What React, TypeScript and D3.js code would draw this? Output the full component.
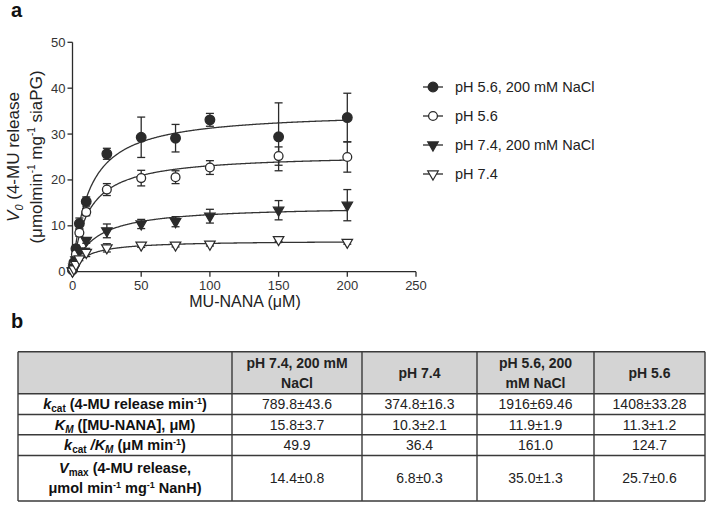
import React from "react";
import * as d3 from "d3";

const substrate = [0, 1, 2.5, 5, 10, 25, 50, 75, 100, 150, 200];
const seriesNames = ["pH 5.6, 200 mM NaCl", "pH 5.6", "pH 7.4, 200 mM NaCl", "pH 7.4"];
const seriesMarkers = ["circleFilled", "circleOpen", "triDownFilled", "triDownOpen"];
const vPh56Na = [0.5, 2.0, 5.0, 10.5, 15.3, 25.7, 29.3, 29.1, 33.1, 29.4, 33.6];
const ePh56Na = [0.3, 0.5, 0.8, 1.2, 1.0, 1.2, 4.4, 3.0, 1.4, 7.4, 5.3];
const vPh56 = [0.3, 1.5, 3.8, 8.5, 13.0, 17.9, 20.4, 20.6, 22.7, 25.2, 25.0];
const ePh56 = [0.2, 0.4, 0.6, 0.8, 0.8, 1.3, 1.7, 1.4, 1.5, 2.0, 3.3];
const vPh74Na = [0.2, 1.0, 2.6, 4.5, 6.8, 8.9, 10.4, 10.9, 12.1, 13.4, 14.5];
const ePh74Na = [0.1, 0.3, 0.4, 0.6, 0.6, 1.5, 1.0, 1.1, 1.5, 2.1, 3.4];
const vPh74 = [0.1, 0.6, 1.6, 2.8, 4.2, 5.2, 5.8, 5.8, 6.0, 7.0, 6.4];
const ePh74 = [0.1, 0.2, 0.3, 0.4, 0.9, 0.9, 0.5, 0.4, 0.4, 0.4, 0.4];
// fitted Michaelis-Menten parameters (from table)
const fitVmax = [35.0, 25.7, 14.4, 6.8];
const fitKm = [11.9, 11.3, 15.8, 10.3];

const xTicks = [0, 50, 100, 150, 200, 250];
const yTicks = [0, 10, 20, 30, 40, 50];

// table
const tableColumns = [["pH 7.4, 200 mM", "NaCl"], ["pH 7.4"], ["pH 5.6, 200", "mM NaCl"], ["pH 5.6"]];
const kcatRow = ["789.8±43.6", "374.8±16.3", "1916±69.46", "1408±33.28"];
const kmRow = ["15.8±3.7", "10.3±2.1", "11.9±1.9", "11.3±1.2"];
const ratioRow = ["49.9", "36.4", "161.0", "124.7"];
const vmaxRow = ["14.4±0.8", "6.8±0.3", "35.0±1.3", "25.7±0.6"];

const FONT = "'Liberation Sans', Arial, sans-serif";
const INK = "#2b2b2b";

function Marker({ kind, cx, cy }: { kind: string; cx: number; cy: number }) {
  if (kind.startsWith("circle")) {
    const filled = kind === "circleFilled";
    return <circle cx={cx} cy={cy} r={filled ? 4.8 : 4.4} fill={filled ? INK : "#fff"} stroke={INK} strokeWidth={1.3} />;
  }
  const filled = kind === "triDownFilled";
  const p = d3.symbol(d3.symbolTriangle, 48)() as string;
  return (
    <path d={p} transform={`translate(${cx},${cy}) rotate(180)`} fill={filled ? INK : "#fff"} stroke={INK} strokeWidth={1.2} />
  );
}

export default function App() {
  const x = d3.scaleLinear().domain([0, 250]).range([72.5, 416]);
  const y = d3.scaleLinear().domain([0, 50]).range([271.7, 42.3]);
  const values = [vPh56Na, vPh56, vPh74Na, vPh74];
  const errs = [ePh56Na, ePh56, ePh74Na, ePh74];
  const sGrid = d3.range(0, 200.01, 0.5);
  const line = d3
    .line<number[]>()
    .x((d) => x(d[0]))
    .y((d) => y(d[1]));

  // table geometry
  const colX = [18, 232, 362, 477, 594, 705];
  const rowY = [351.7, 393.8, 414.5, 434.8, 455.5, 501];
  const rows = [kcatRow, kmRow, ratioRow, vmaxRow];
  const colCenter = (i: number) => (colX[i] + colX[i + 1]) / 2;
  const rowCenter = (i: number) => (rowY[i] + rowY[i + 1]) / 2;

  return (
    <svg width={708} height={505} style={{ position: "absolute", left: 0, top: 0, background: "#fff" }} fontFamily={FONT}>
      <rect width={708} height={505} fill="#fff" />
      {/* panel labels */}
      <text x={11} y={17} fontSize={20} fontWeight="bold" fill="#111">a</text>
      <text x={11} y={328} fontSize={20} fontWeight="bold" fill="#111">b</text>

      {/* axes */}
      <g stroke={INK} strokeWidth={1.3} fill="none">
        <line x1={x(0)} x2={x(0)} y1={y(0)} y2={y(50)} />
        <line x1={x(0)} x2={x(250)} y1={y(0)} y2={y(0)} />
        {yTicks.map((t) => (
          <line key={"yt" + t} x1={x(0) - 5} x2={x(0)} y1={y(t)} y2={y(t)} />
        ))}
        {xTicks.map((t) => (
          <line key={"xt" + t} x1={x(t)} x2={x(t)} y1={y(0)} y2={y(0) + 5} />
        ))}
      </g>
      {yTicks.map((t) => (
        <text key={"yl" + t} x={x(0) - 7} y={y(t)} dy="0.35em" textAnchor="end" fontSize={13} fill="#333">
          {t}
        </text>
      ))}
      {xTicks.map((t) => (
        <text key={"xl" + t} x={x(t)} y={y(0) + 18} textAnchor="middle" fontSize={13} fill="#333">
          {t}
        </text>
      ))}
      <text x={245} y={307} textAnchor="middle" fontSize={16} fill="#222">
        MU-NANA (μM)
      </text>
      <text transform="translate(18.5,157) rotate(-90)" textAnchor="middle" fontSize={17} fill="#222">
        <tspan fontStyle="italic">V</tspan>
        <tspan fontStyle="italic" fontSize={11} dy={4}>0</tspan>
        <tspan dy={-4}> (4-MU release</tspan>
      </text>
      <text transform="translate(41.5,157) rotate(-90)" textAnchor="middle" fontSize={17} fill="#222">
        <tspan>(μmolmin</tspan>
        <tspan fontSize={10} dy={-7}>-1</tspan>
        <tspan dy={7}> mg</tspan>
        <tspan fontSize={10} dy={-7}>-1</tspan>
        <tspan dy={7}> siaPG)</tspan>
      </text>

      {/* fitted curves */}
      {fitVmax.map((vm, i) => (
        <path
          key={"fit" + i}
          d={line(sGrid.map((s) => [s, (vm * s) / (fitKm[i] + s)])) as string}
          fill="none"
          stroke="#333"
          strokeWidth={1.3}
        />
      ))}

      {/* error bars */}
      {values.map((vals, si) => (
        <g key={"eb" + si} stroke={INK} strokeWidth={1.3}>
          {vals.map((v, j) => {
            const e = errs[si][j];
            const cx = x(substrate[j]);
            return (
              <g key={j}>
                <line x1={cx} x2={cx} y1={y(v - e)} y2={y(v + e)} />
                <line x1={cx - 4} x2={cx + 4} y1={y(v + e)} y2={y(v + e)} />
                <line x1={cx - 4} x2={cx + 4} y1={y(v - e)} y2={y(v - e)} />
              </g>
            );
          })}
        </g>
      ))}
      {/* markers */}
      {values.map((vals, si) => (
        <g key={"mk" + si}>
          {vals.map((v, j) => (
            <Marker key={j} kind={seriesMarkers[si]} cx={x(substrate[j])} cy={y(v)} />
          ))}
        </g>
      ))}

      {/* legend */}
      {seriesNames.map((name, i) => {
        const ly = 87 + i * 29;
        return (
          <g key={"lg" + i}>
            <line x1={423} x2={443} y1={ly} y2={ly} stroke={INK} strokeWidth={1.3} />
            <Marker kind={seriesMarkers[i]} cx={433} cy={ly} />
            <text x={455} y={ly} dy="0.35em" fontSize={14.5} fill="#222">
              {name}
            </text>
          </g>
        );
      })}

      {/* table */}
      <rect x={colX[0]} y={rowY[0]} width={colX[5] - colX[0]} height={rowY[1] - rowY[0]} fill="#d4d4d4" />
      <g stroke="#3a3a3a" strokeWidth={1.4}>
        {rowY.map((ry, i) => (
          <line key={"hr" + i} x1={colX[0]} x2={colX[5]} y1={ry} y2={ry} />
        ))}
        {colX.map((cx, i) => (
          <line key={"vr" + i} x1={cx} x2={cx} y1={rowY[0]} y2={rowY[5]} />
        ))}
      </g>
      {tableColumns.map((lines, i) => (
        <text key={"th" + i} x={colCenter(i + 1)} fontSize={14} fontWeight="bold" textAnchor="middle" fill="#222">
          {lines.map((l, k) => (
            <tspan key={k} x={colCenter(i + 1)} y={rowCenter(0) + (k - (lines.length - 1) / 2) * 20} dy="0.35em">
              {l}
            </tspan>
          ))}
        </text>
      ))}
      {rows.map((r, ri) =>
        r.map((val, ci) => (
          <text key={ri + "-" + ci} x={colCenter(ci + 1)} y={rowCenter(ri + 1)} dy="0.35em" textAnchor="middle" fontSize={14} fill="#222">
            {val}
          </text>
        ))
      )}
      {/* row labels */}
      <g fontWeight="bold" fontSize={14.5} fill="#111">
        <text x={colCenter(0)} y={rowCenter(1)} dy="0.35em" textAnchor="middle">
          <tspan fontStyle="italic">k</tspan>
          <tspan fontSize={10} dy={3}>cat</tspan>
          <tspan dy={-3}> (4-MU release min</tspan>
          <tspan fontSize={9} dy={-5}>-1</tspan>
          <tspan dy={5}>)</tspan>
        </text>
        <text x={colCenter(0)} y={rowCenter(2)} dy="0.35em" textAnchor="middle">
          <tspan fontStyle="italic">K</tspan>
          <tspan fontStyle="italic" fontSize={10} dy={3}>M</tspan>
          <tspan dy={-3}> ([MU-NANA], μM)</tspan>
        </text>
        <text x={colCenter(0)} y={rowCenter(3)} dy="0.35em" textAnchor="middle">
          <tspan fontStyle="italic">k</tspan>
          <tspan fontSize={10} dy={3}>cat</tspan>
          <tspan dy={-3} fontStyle="italic"> /K</tspan>
          <tspan fontStyle="italic" fontSize={10} dy={3}>M</tspan>
          <tspan dy={-3}> (μM min</tspan>
          <tspan fontSize={9} dy={-5}>-1</tspan>
          <tspan dy={5}>)</tspan>
        </text>
        <text x={colCenter(0)} y={rowCenter(4) - 10} dy="0.35em" textAnchor="middle">
          <tspan fontStyle="italic">V</tspan>
          <tspan fontSize={10} dy={3}>max</tspan>
          <tspan dy={-3}> (4-MU release,</tspan>
        </text>
        <text x={colCenter(0)} y={rowCenter(4) + 10} dy="0.35em" textAnchor="middle">
          <tspan>μmol min</tspan>
          <tspan fontSize={9} dy={-5}>-1</tspan>
          <tspan dy={5}> mg</tspan>
          <tspan fontSize={9} dy={-5}>-1</tspan>
          <tspan dy={5}> NanH)</tspan>
        </text>
      </g>
    </svg>
  );
}
